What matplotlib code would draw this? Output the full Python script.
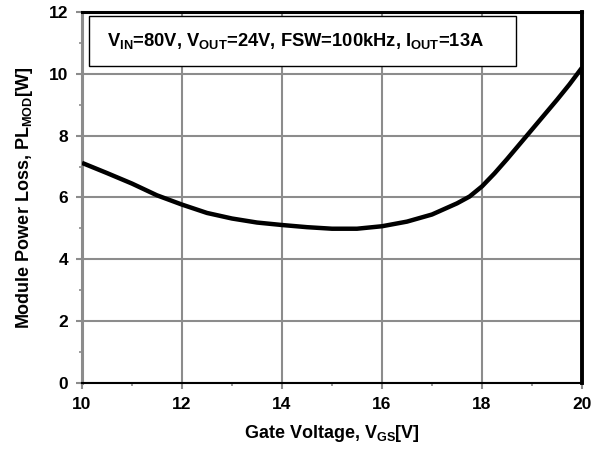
import numpy as np
import matplotlib.pyplot as plt
from matplotlib.patches import Rectangle

plt.rcParams['font.family'] = ['Liberation Sans', 'DejaVu Sans']
plt.rcParams['font.weight'] = 'bold'
plt.rcParams['mathtext.default'] = 'regular'

# gate voltage sweep vs. module loss
vgs = [10.0, 10.5, 11.0, 11.5, 12.0, 12.5, 13.0, 13.5, 14.0, 14.5, 15.0, 15.5,
       16.0, 16.5, 17.0, 17.5, 17.75, 18.0, 18.25, 18.5, 18.75, 19.0, 19.25,
       19.5, 19.75, 20.0]
ploss = [7.12, 6.79, 6.45, 6.07, 5.77, 5.50, 5.32, 5.19, 5.11, 5.04, 4.99, 4.99,
         5.07, 5.22, 5.45, 5.81, 6.03, 6.36, 6.78, 7.24, 7.72, 8.20, 8.68,
         9.16, 9.66, 10.2]

xticks = [10, 12, 14, 16, 18, 20]
yticks = [0, 2, 4, 6, 8, 10, 12]
cond = 'V$_{IN}$=80V, V$_{OUT}$=24V, FSW=100kHz, I$_{OUT}$=13A'

fig = plt.figure(figsize=(6.02, 4.51), dpi=100)
ax = fig.add_axes([0.1362, 0.1508, 0.8306, 0.8226])

ax.plot(vgs, ploss, color='black', lw=3.2, solid_capstyle='butt',
        solid_joinstyle='round', zorder=3)

ax.set_xlim(10, 20)
ax.set_ylim(0, 12)
ax.set_xticks(xticks)
ax.set_yticks(yticks)
ax.set_xticks(np.arange(11, 20, 2), minor=True)
ax.set_yticks(np.arange(1, 12, 2), minor=True)
ax.grid(True, which='major', color='#8c8c8c', lw=1.5)
ax.tick_params(which='major', direction='out', length=4, width=1.5,
               color='#8c8c8c', labelsize=12.5, pad=6)
ax.tick_params(which='minor', direction='out', length=2, width=1.2,
               color='#8c8c8c')
for lab in ax.get_xticklabels() + ax.get_yticklabels():
    lab.set_fontweight('bold')

ax.spines['left'].set_color('#8c8c8c')
ax.spines['left'].set_linewidth(2.2)
ax.spines['bottom'].set_color('black')
ax.spines['bottom'].set_linewidth(1.5)
ax.spines['top'].set_linewidth(2.2)
ax.spines['right'].set_linewidth(2.8)

ax.set_xlabel('Gate Voltage, V$_{GS}$[V]', fontsize=13, fontweight='bold',
              labelpad=8)
ax.set_ylabel('Module Power Loss, PL$_{MOD}$[W]', fontsize=13,
              fontweight='bold', labelpad=10)

# operating-condition box
ax.add_patch(Rectangle((0.014, 0.8546), 0.854, 0.1344, transform=ax.transAxes,
                       fc='white', ec='black', lw=1.0, zorder=4))
ax.text(0.428, 0.922, cond, transform=ax.transAxes, fontsize=13.2,
        fontweight='bold', va='center', ha='center', zorder=5)

fig.savefig('out.png', dpi=100)
